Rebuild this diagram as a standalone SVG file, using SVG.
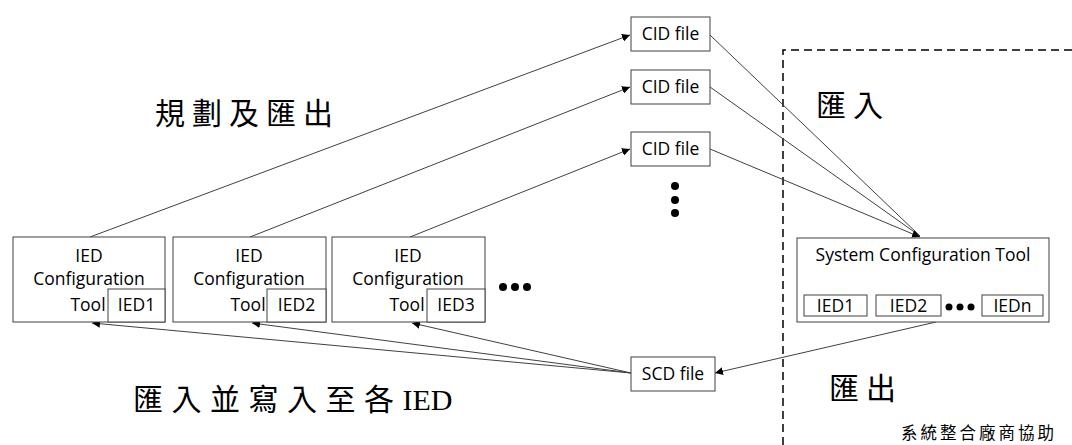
<svg xmlns="http://www.w3.org/2000/svg" width="1072" height="445" viewBox="0 0 1072 445">
<defs>
<marker id="arr" viewBox="0 0 10 10" refX="10" refY="5" markerWidth="8" markerHeight="8" markerUnits="userSpaceOnUse" orient="auto">
<path d="M0,0 L10,5 L0,10 z" fill="#000"/>
</marker>
<style>
.box{fill:#fff;stroke:#404040;stroke-width:1}
.t{font-family:"Open Sans","Liberation Sans",sans-serif;font-size:17.5px;fill:#000;text-anchor:middle}
.c{stroke:#404040;stroke-width:1;fill:none;marker-end:url(#arr)}
.cn{stroke:#404040;stroke-width:1;fill:none}
.big{font-family:"Liberation Serif","Noto Sans CJK TC",serif;font-size:30px;fill:#000;letter-spacing:7px}
</style>
</defs>
<rect width="1072" height="445" fill="#fff"/>

<path d="M783,445 L783,50 L1072,50" fill="none" stroke="#000" stroke-width="1.5" stroke-dasharray="8,5"/>

<g id="connectors">
<path class="c" d="M90,237 L630,35"/>
<path class="c" d="M250,237 L630,87"/>
<path class="c" d="M410,237 L630,149"/>
<path class="cn" d="M710,35 L920,236"/>
<path class="cn" d="M710,87 L920,236"/>
<path class="c" d="M710,149 L920,237"/>
<path class="c" d="M936,322 L715,373"/>
<path class="c" d="M631,373 L92,323"/>
<path class="c" d="M631,373 L252,323"/>
<path class="c" d="M631,373 L412,323"/>
</g>

<g id="ied-tool-1">
<rect class="box" x="13" y="237" width="152" height="85"/>
<text class="t" x="89" y="262">IED</text>
<text class="t" x="89" y="285">Configuration</text>
<text class="t" x="88" y="311">Tool</text>
<rect class="box" x="108" y="289" width="57" height="33"/>
<text class="t" x="136.5" y="311">IED1</text>
</g>
<g id="ied-tool-2">
<rect class="box" x="173" y="237" width="153" height="85"/>
<text class="t" x="249" y="262">IED</text>
<text class="t" x="249" y="285">Configuration</text>
<text class="t" x="248" y="311">Tool</text>
<rect class="box" x="267" y="289" width="59" height="33"/>
<text class="t" x="296.5" y="311">IED2</text>
</g>
<g id="ied-tool-3">
<rect class="box" x="332" y="237" width="153" height="85"/>
<text class="t" x="408" y="262">IED</text>
<text class="t" x="408" y="285">Configuration</text>
<text class="t" x="407" y="311">Tool</text>
<rect class="box" x="427" y="289" width="58" height="33"/>
<text class="t" x="456" y="311">IED3</text>
</g>
<g id="ied-dots" fill="#000">
<circle cx="503" cy="287" r="4"/>
<circle cx="515" cy="287" r="4"/>
<circle cx="527" cy="287" r="4"/>
</g>

<g id="cid1">
<rect class="box" x="631" y="17" width="79" height="34"/>
<text class="t" x="670.5" y="40">CID file</text>
</g>
<g id="cid2">
<rect class="box" x="631" y="70" width="79" height="34"/>
<text class="t" x="670.5" y="93">CID file</text>
</g>
<g id="cid3">
<rect class="box" x="631" y="132" width="79" height="34"/>
<text class="t" x="670.5" y="155">CID file</text>
</g>
<g id="cid-dots" fill="#000">
<circle cx="675" cy="186" r="4"/>
<circle cx="675" cy="200" r="4"/>
<circle cx="675" cy="213" r="4"/>
</g>

<g id="scd">
<rect class="box" x="631" y="357" width="84" height="34"/>
<text class="t" x="673" y="380">SCD file</text>
</g>

<g id="sys-tool">
<rect class="box" x="797" y="238" width="252" height="84"/>
<text class="t" x="923" y="261">System Configuration Tool</text>
<rect class="box" x="804" y="295" width="63" height="21"/>
<text class="t" x="835.5" y="312">IED1</text>
<rect class="box" x="876" y="295" width="65" height="21"/>
<text class="t" x="908.5" y="312">IED2</text>
<circle cx="949" cy="307" r="3.5" fill="#000"/>
<circle cx="960" cy="307" r="3.5" fill="#000"/>
<circle cx="971" cy="307" r="3.5" fill="#000"/>
<rect class="box" x="982" y="295" width="61" height="21"/>
<text class="t" x="1012.5" y="312">IEDn</text>
</g>

<g id="labels">
<text class="big" x="155" y="124">規劃及匯出</text>
<text class="big" x="816" y="116">匯入</text>
<text class="big" x="829" y="399">匯出</text>
<text class="big" x="133" y="410" style="letter-spacing:8.5px">匯入並寫入至各<tspan style="letter-spacing:0">IED</tspan></text>
<text x="901" y="439" style="font-family:'Noto Sans CJK TC',sans-serif;font-size:16.5px;letter-spacing:3px;fill:#000">系統整合廠商協助</text>
</g>
</svg>
